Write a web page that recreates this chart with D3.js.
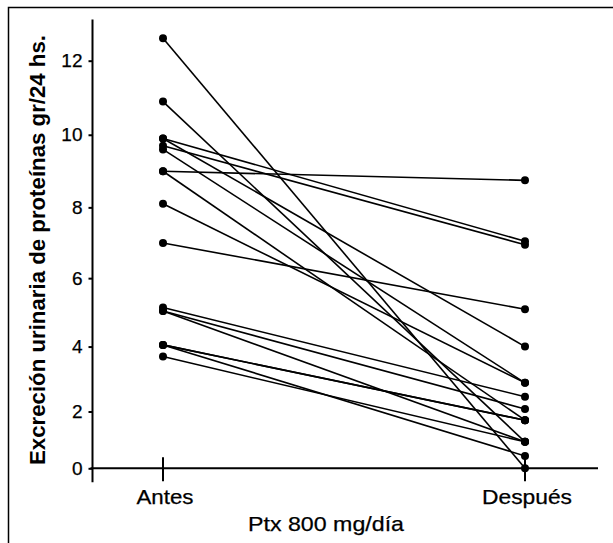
<!DOCTYPE html>
<html><head><meta charset="utf-8">
<script src="https://cdn.jsdelivr.net/npm/d3@7/dist/d3.min.js"></script>
<style>body{margin:0;background:#fff}svg{display:block}</style>
</head><body>
<script>
const categories = ["Antes", "Después"];
const yTicks = [0, 2, 4, 6, 8, 10, 12];
const antes   = [12.6, 10.9, 9.9, 9.9, 9.7, 9.6, 9.0, 9.0, 8.1, 7.0, 5.15, 5.05, 5.05, 4.05, 4.05, 4.05, 3.7];
const despues = [0.0, 1.0, 7.05, 4.0, 6.95, 2.9, 8.75, 1.72, 2.9, 5.1, 2.47, 2.08, 1.0, 1.72, 1.72, 0.5, 1.0];
const yTitle = "Excreción urinaria de proteínas gr/24 hs.";
const xTitle = "Ptx 800 mg/día";

const W = 613, H = 543;
const svg = d3.select("body").append("svg").attr("width", W).attr("height", H);
const font = "'Liberation Sans', Arial, Helvetica, sans-serif";

// frame
svg.append("path").attr("d", `M8.5,${H} V7.5 H${W}`).attr("fill", "none").attr("stroke", "#000").attr("stroke-width", 1.5);

const y = d3.scalePow().exponent(1.1).domain([0, 12]).range([468.3, 60.7]);
const x = d3.scalePoint().domain(categories).range([163, 525]);
const axisX = 92.5;

// y axis
const gy = svg.append("g").attr("transform", `translate(${axisX},0)`)
  .call(d3.axisLeft(y).tickValues(yTicks).tickFormat(d3.format("d")).tickSize(4).tickPadding(6));
gy.select(".domain").remove();
gy.selectAll(".tick line").attr("stroke-width", 2);
gy.selectAll("text").attr("font-family", font).attr("font-size", 19).attr("fill", "#000")
  .attr("stroke", "#000").attr("stroke-width", 0.25);
svg.append("line").attr("x1", axisX).attr("x2", axisX).attr("y1", y(13.1)).attr("y2", y(0) + 14)
  .attr("stroke", "#000").attr("stroke-width", 2);

// x axis
svg.append("line").attr("x1", axisX - 2).attr("x2", 598).attr("y1", y(0)).attr("y2", y(0))
  .attr("stroke", "#000").attr("stroke-width", 2);
const gx = svg.append("g").attr("transform", `translate(0,${y(0)})`);
gx.selectAll("line").data(categories).join("line")
  .attr("x1", d => x(d)).attr("x2", d => x(d)).attr("y1", -11).attr("y2", 13)
  .attr("stroke", "#000").attr("stroke-width", 2);
const labelW = {"Antes": 57, "Después": 90};
gx.selectAll("text").data(categories).join("text")
  .attr("x", d => x(d) + 2).attr("y", 36).attr("text-anchor", "middle")
  .attr("textLength", d => labelW[d]).attr("lengthAdjust", "spacingAndGlyphs")
  .attr("font-family", font).attr("font-size", 20)
  .attr("stroke", "#000").attr("stroke-width", 0.25).text(d => d);

// titles
svg.append("text").attr("x", 326).attr("y", 531).attr("text-anchor", "middle")
  .attr("textLength", 156).attr("lengthAdjust", "spacingAndGlyphs")
  .attr("font-family", font).attr("font-size", 21)
  .attr("stroke", "#000").attr("stroke-width", 0.25).text(xTitle);
svg.append("text").attr("transform", "translate(45,250) rotate(-90)").attr("text-anchor", "middle")
  .attr("textLength", 430).attr("lengthAdjust", "spacingAndGlyphs")
  .attr("font-family", font).attr("font-size", 22).attr("font-weight", "bold").text(yTitle);

// data
const pairs = antes.map((a, i) => ({a, d: despues[i]}));
svg.append("g").selectAll("line").data(pairs).join("line")
  .attr("x1", x("Antes")).attr("x2", x("Después"))
  .attr("y1", p => y(p.a)).attr("y2", p => y(p.d))
  .attr("stroke", "#000").attr("stroke-width", 1.6);
const dots = [];
pairs.forEach(p => { dots.push([x("Antes"), p.a]); dots.push([x("Después"), p.d]); });
svg.append("g").selectAll("circle").data(dots).join("circle")
  .attr("cx", d => d[0]).attr("cy", d => y(d[1])).attr("r", 4).attr("fill", "#000");
</script>
</body></html>
